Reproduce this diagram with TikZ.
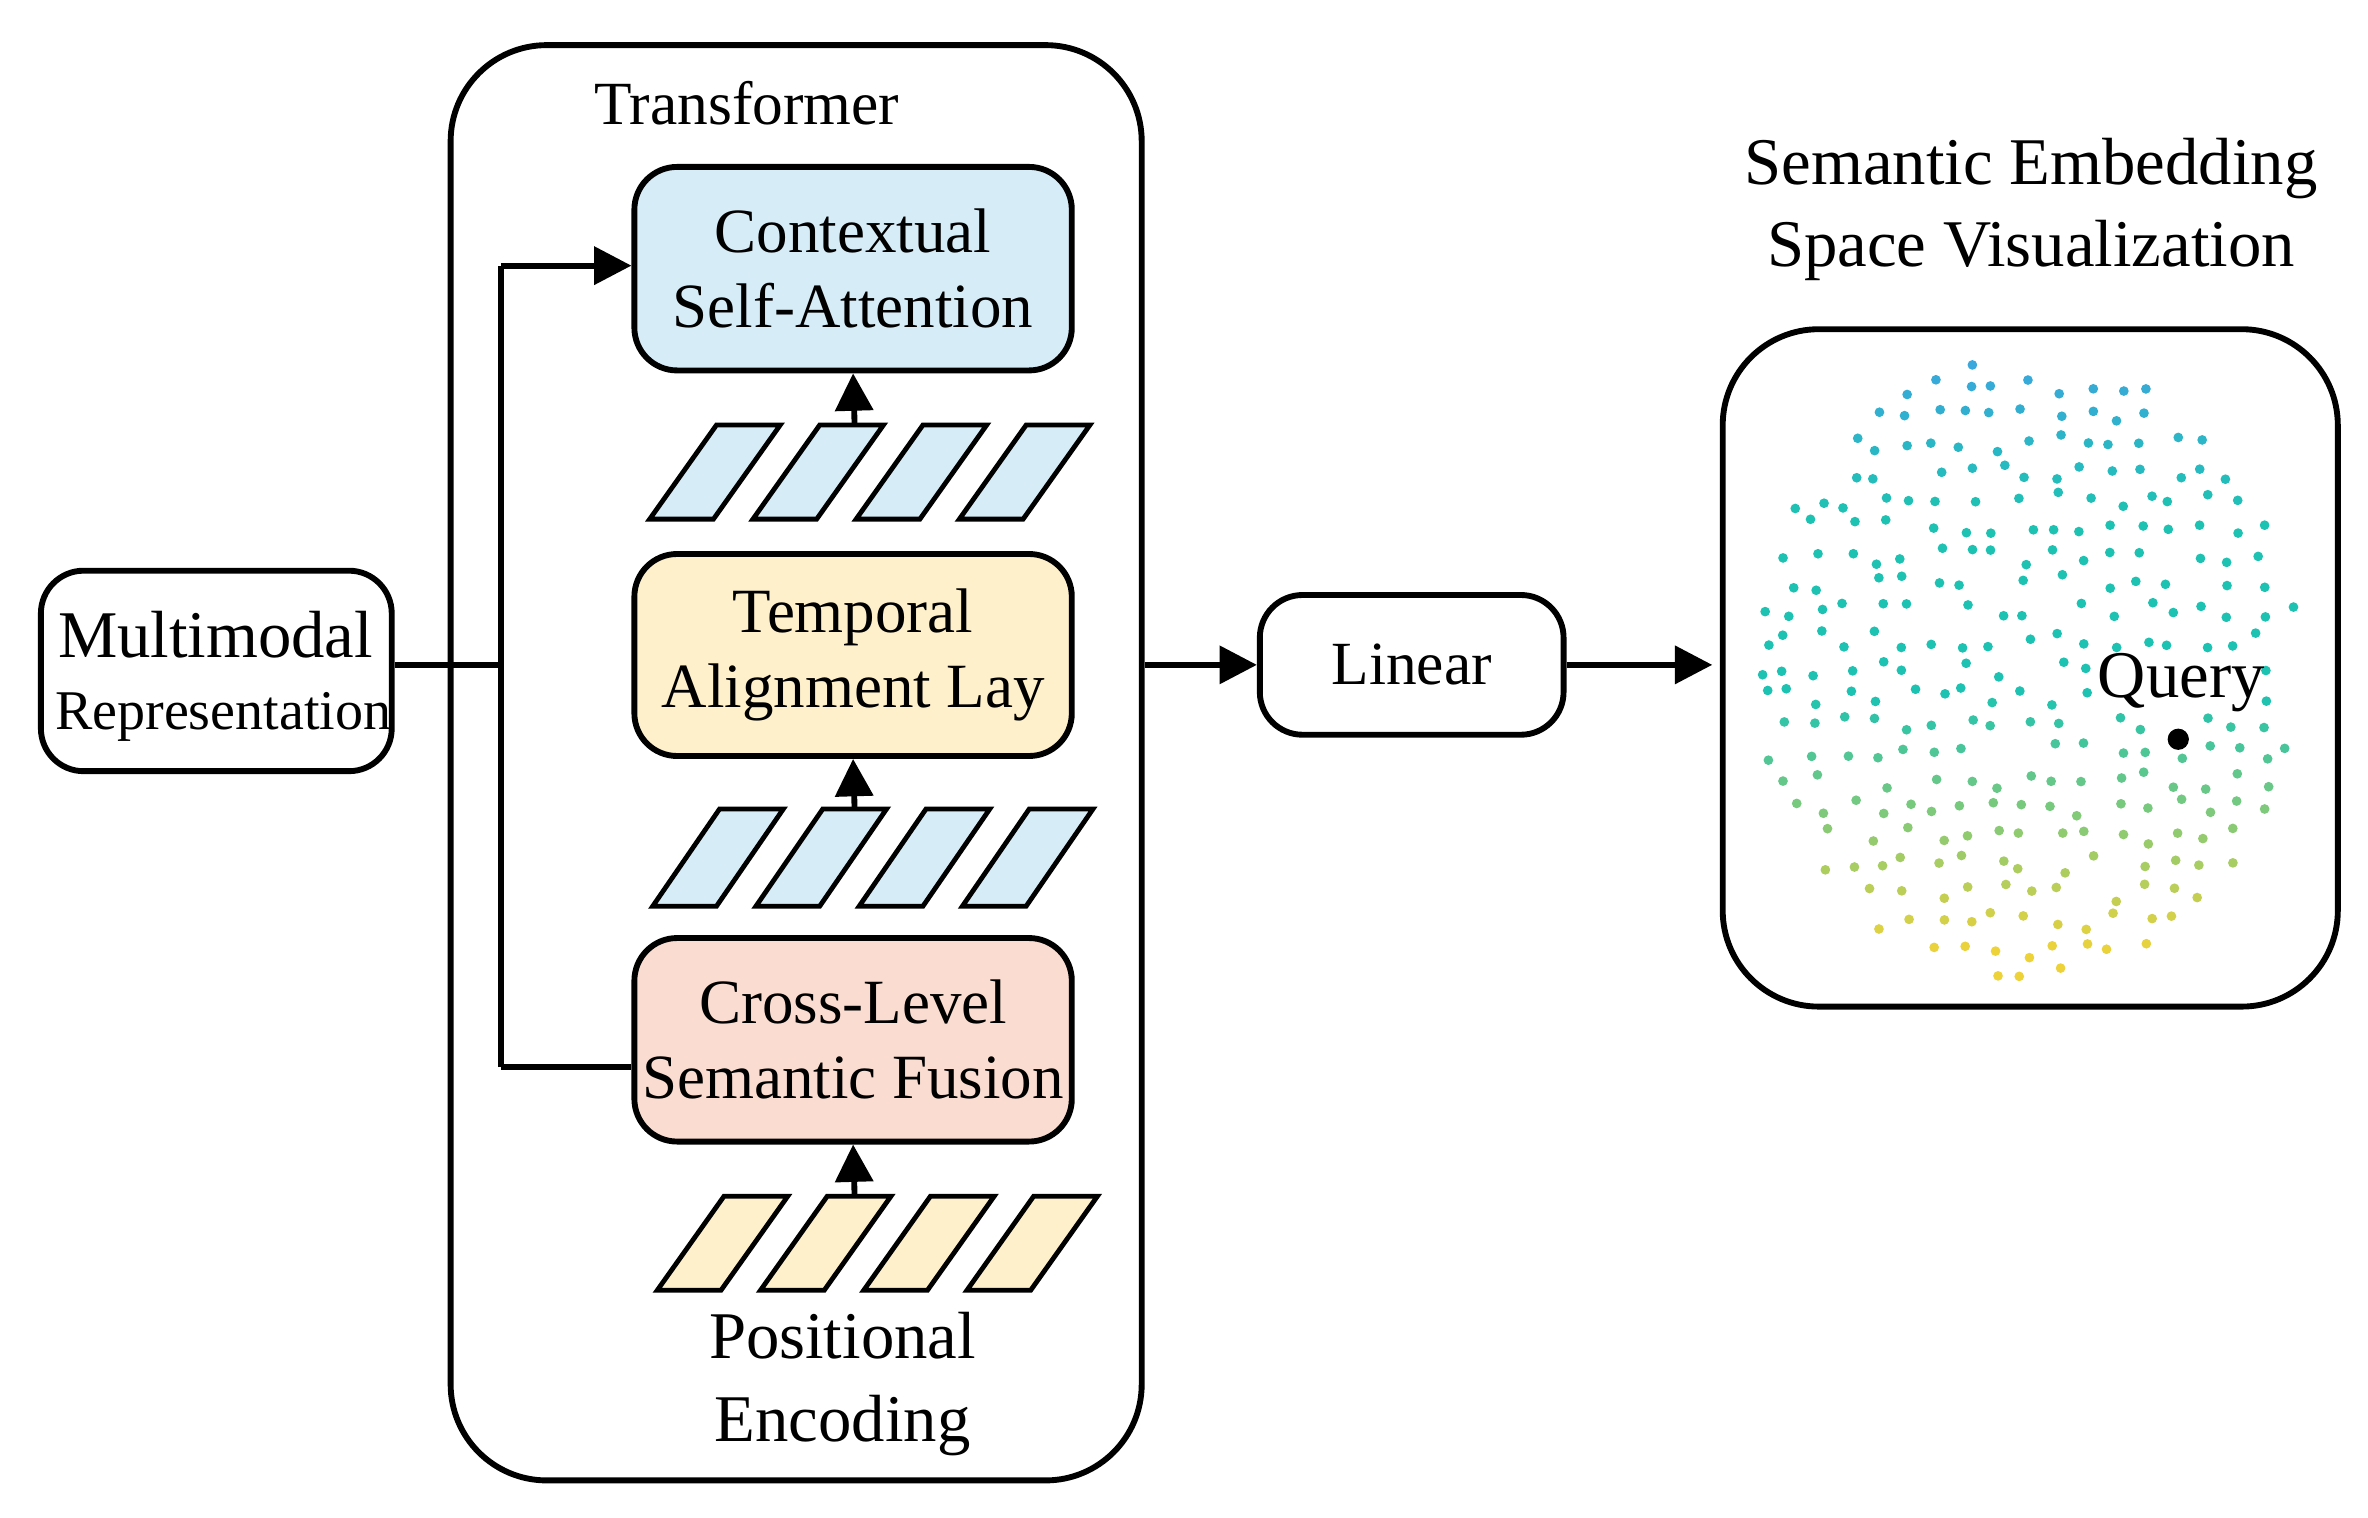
\documentclass[tikz,border=0pt]{standalone}
\usepackage{fontspec}
\setmainfont{Liberation Serif}
\usetikzlibrary{arrows.meta}
\definecolor{cblue}{HTML}{3AA8DC}
\definecolor{cteal}{HTML}{1EC2B2}
\definecolor{cyel}{HTML}{EED23A}
\definecolor{fblue}{HTML}{D6ECF7}
\definecolor{fyel}{HTML}{FDF0CA}
\definecolor{fred}{HTML}{FADCD0}
\begin{document}
\begin{tikzpicture}[x=0.01cm,y=-0.01cm,
  box/.style={draw,line width=1.1pt,rounded corners=8pt,align=center,inner sep=0pt},
  par/.style={draw,line width=0.9pt},
  arr/.style={line width=1.1pt,-{Triangle[length=7pt,width=7pt]}},
  ln/.style={line width=1.1pt},
  txt/.style={font=\fontsize{11.8}{14}\selectfont,align=center}]
\useasboundingbox (0,0) rectangle (1560,1000);
\node[box,rounded corners=18pt,minimum width=4.55cm,minimum height=9.45cm] (tr) at (524.5,502.5) {};
\node[font=\fontsize{11.5}{14}\selectfont] (trl) at (492,68) {Transformer};
\node[box,fill=fblue,minimum width=2.88cm,minimum height=1.34cm,txt] (ctx) at (562,177) {Contextual\\Self-Attention};
\node[box,fill=fyel,minimum width=2.88cm,minimum height=1.33cm,txt] (tmp) at (562,431.5) {Temporal\\Alignment Lay};
\node[box,fill=fred,minimum width=2.88cm,minimum height=1.34cm,txt] (crs) at (562,685) {Cross-Level\\Semantic Fusion};
\foreach \row/\yt/\yb/\xo/\col in {1/280/342/428/fblue,2/533/597/430/fblue,3/788/850/433/fyel}{
  \foreach \k in {0,...,3}{
    \pgfmathsetmacro\xa{\xo+68*\k}
    \draw[par,fill=\col] (\xa,\yb) -- (\xa+44,\yt) -- (\xa+86,\yt) -- (\xa+42,\yb) -- cycle;
  }
  \coordinate (r\row) at (563,\yt);
}
\draw[arr] (r1) -- (ctx.south);
\draw[arr] (r2) -- (tmp.south);
\draw[arr] (r3) -- (crs.south);
\node[txt,font=\fontsize{12.5}{15.5}\selectfont] (pe) at (555,912) {Positional\\Encoding};
\node[box,minimum width=2.31cm,minimum height=1.32cm] (mm) at (142.5,442) {};
\node[font=\fontsize{12.5}{15}\selectfont] (mm1) at (142,418) {Multimodal};
\node[font=\fontsize{10.5}{13}\selectfont] (mm2) at (147,472) {Representation};
\coordinate (j) at (330,438);
\coordinate (jt) at (330,175);
\coordinate (jb) at (330,703);
\draw[ln] (mm.east |- j) -- (j);
\draw[ln] (jb) -- (jt);
\draw[arr] (jt) -- (ctx.west |- jt);
\draw[ln] (jb) -- (crs.west |- jb);
\node[box,minimum width=2cm,minimum height=0.92cm,font=\fontsize{11.5}{14}\selectfont] (lin) at (930,438) {Linear};
\draw[arr] (tr.east |- lin) -- (lin.west);
\node[box,rounded corners=18pt,minimum width=4.05cm,minimum height=4.46cm] (emb) at (1337.5,440) {};
\coordinate (ein) at (1128,438);
\draw[arr] (lin.east) -- (ein);
\node[align=center,font=\fontsize{12.5}{15.5}\selectfont] (et) at (1338,138) {Semantic Embedding\\Space Visualization};
\pgfmathsetseed{7}
\foreach \gx in {-9,...,9}{
  \foreach \gy in {-11,...,11}{
    \pgfmathsetmacro\px{1335+19.5*\gx+12*(rnd-0.5)}
    \pgfmathsetmacro\py{440+18.5*\gy+12*(rnd-0.5)}
    \pgfmathsetmacro\d{((\px-1335)/180)^2+((\py-440)/205)^2}
    \pgfmathtruncatemacro\ok{(\d<1)&&(rnd<0.9)}
    \ifnum\ok=1
      \pgfmathtruncatemacro\t{max(0,min(100,(\py-240)/3.9))}
      \ifnum\t<25 \pgfmathtruncatemacro\p{min(100,4*\t)}\colorlet{dc}{cteal!\p!cblue}%
      \else\ifnum\t<55 \colorlet{dc}{cteal}%
      \else \pgfmathtruncatemacro\p{min(100,2.3*(\t-55))}\colorlet{dc}{cyel!\p!cteal}\fi\fi
      \fill[dc] (\px,\py) circle (3.2);
    \fi
  }
}
\fill[white] (1390,432) rectangle (1488,468);
\node[font=\fontsize{12.5}{15}\selectfont] (ql) at (1437,450) {Query};
\fill (1435,487) circle (7);
\end{tikzpicture}
\end{document}
